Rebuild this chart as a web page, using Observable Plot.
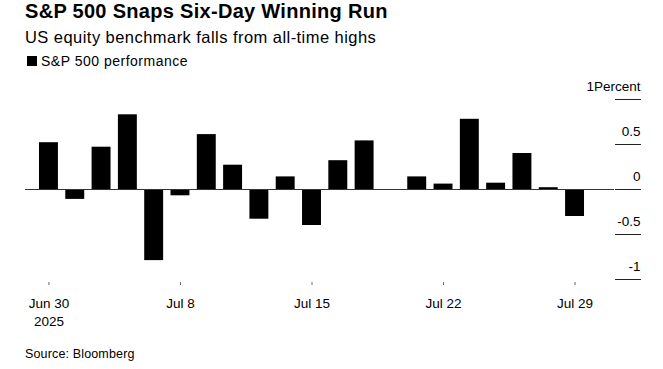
<!DOCTYPE html>
<html>
<head>
<meta charset="utf-8">
<script src="https://cdn.jsdelivr.net/npm/d3@7"></script>
<script src="https://cdn.jsdelivr.net/npm/@observablehq/plot@0.6"></script>
<style>
  html, body { margin: 0; padding: 0; background: #fff; }
  body { width: 663px; height: 369px; position: relative; overflow: hidden;
         font-family: "Liberation Sans", Arial, Helvetica, sans-serif; color: #000; }
  .title { position: absolute; left: 25px; top: 0px; font-size: 20px; font-weight: bold; letter-spacing: 0.3px; white-space: nowrap; }
  .subtitle { position: absolute; left: 25px; top: 28px; font-size: 16.5px; letter-spacing: 0.45px; white-space: nowrap; }
  .legend { position: absolute; left: 27px; top: 53px; font-size: 14px; letter-spacing: 0.5px; display: flex; align-items: center; white-space: nowrap; }
  .legend .sw { width: 10px; height: 10px; background: #000; margin-right: 4px; }
  #chart { position: absolute; left: 0; top: 72px; }
  .source { position: absolute; left: 25px; top: 347px; font-size: 12.5px; letter-spacing: 0.15px; }
</style>
</head>
<body>
<div class="title">S&amp;P 500 Snaps Six-Day Winning Run</div>
<div class="subtitle">US equity benchmark falls from all-time highs</div>
<div class="legend"><span class="sw"></span>S&amp;P 500 performance</div>
<div id="chart"></div>
<div class="source">Source: Bloomberg</div>
<script>
const dates = ["2025-06-30","2025-07-01","2025-07-02","2025-07-03","2025-07-07","2025-07-08",
  "2025-07-09","2025-07-10","2025-07-11","2025-07-14","2025-07-15","2025-07-16","2025-07-17",
  "2025-07-18","2025-07-21","2025-07-22","2025-07-23","2025-07-24","2025-07-25","2025-07-28","2025-07-29"];
const values = [0.52,-0.11,0.47,0.83,-0.79,-0.07,0.61,0.27,-0.33,0.14,-0.40,0.32,0.54,
  -0.01,0.14,0.06,0.78,0.07,0.40,0.02,-0.30];
const tickDates = ["2025-06-30","2025-07-08","2025-07-15","2025-07-22","2025-07-29"];
const tickLabels = ["Jun 30\n2025","Jul 8","Jul 15","Jul 22","Jul 29"];
const yTicks = [1, 0.5, 0, -0.5, -1];
const yLabels = ["1Percent","0.5","0","-0.5","-1"];

const data = dates.map((d, i) => ({date: d, value: values[i]}));
const font = "Liberation Sans, Arial, Helvetica, sans-serif";

const chart = Plot.plot({
  width: 663,
  height: 258,
  marginTop: 27,
  marginBottom: 51,
  marginLeft: 25,
  marginRight: 49,
  style: {fontFamily: font, fontSize: "13px", color: "#000", background: "transparent"},
  x: {type: "band", domain: dates, round: false, paddingInner: 0.28, paddingOuter: 0.14, insetLeft: 10.3, insetRight: 26.3},
  y: {domain: [-1, 1]},
  marks: [
    Plot.barY(data, {x: "date", y: "value", fill: "#000"}),
    Plot.ruleY([0], {stroke: "#333", strokeWidth: 1}),
    Plot.axisX({
      ticks: tickDates,
      tickFormat: d => tickLabels[tickDates.indexOf(d)],
      tickSize: 3, dy: 3, tickPadding: 10, lineHeight: 1.3,
      fontSize: 13.5, stroke: "#666", label: null
    }),
    Plot.axisY({
      anchor: "right",
      ticks: yTicks,
      tickFormat: () => "",
      tickSize: 26, stroke: "#222", label: null
    }),
    Plot.axisY({
      anchor: "right",
      ticks: yTicks,
      tickFormat: d => yLabels[yTicks.indexOf(d)],
      tickSize: 0, tickPadding: 26, textAnchor: "end", dy: -13,
      fontSize: 13.5, label: null
    })
  ]
});
document.getElementById("chart").appendChild(chart);
</script>
</body>
</html>
